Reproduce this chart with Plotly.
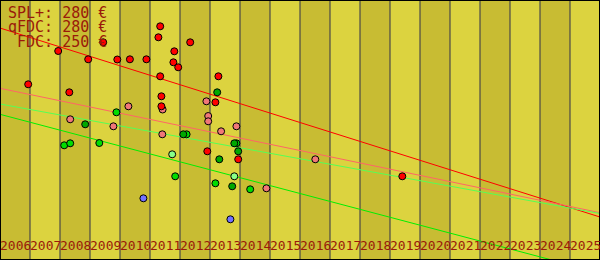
import plotly.graph_objects as go

# ---- data (x: decimal year, y: value) ----
years = list(range(2006, 2026))
year_labels = [str(y) for y in years]

red_x = [2006.94, 2007.94, 2008.31, 2008.94, 2009.44, 2009.91, 2010.33, 2010.88, 2011.34, 2011.28,
         2011.81, 2011.78, 2011.94, 2012.34, 2011.34, 2011.38, 2011.38, 2013.28, 2013.18, 2012.91,
         2013.94, 2019.41]
red_y = [175.7, 209, 167.7, 200.7, 217.7, 200.5, 200.7, 200.7, 233.7, 222.7,
         208.7, 197.7, 192.7, 217.7, 183.7, 163.7, 153.7, 183.7, 157.7, 108.7,
         100.7, 83.7]

pink_x = [2008.34, 2009.78, 2010.28, 2011.42, 2011.41, 2012.88, 2012.94, 2012.94, 2013.37, 2013.88,
          2014.88, 2016.51]
pink_y = [140.7, 133.7, 153.7, 150.5, 125.7, 158.7, 144, 138.7, 128.7, 133.7,
          71.7, 100.7]

dgreen_x = [2008.84, 2012.11, 2013.24, 2013.31, 2013.81, 2013.94, 2013.74]
dgreen_y = [135.7, 125.7, 167.7, 100.7, 116.7, 108.7, 73.7]

bgreen_x = [2008.14, 2008.34, 2009.31, 2009.88, 2012.22, 2013.88, 2011.84, 2013.18, 2014.34]
bgreen_y = [114.7, 116.7, 117, 147.7, 125.7, 116.7, 83.7, 76.7, 70.7]

lgreen_x = [2011.74, 2013.81]
lgreen_y = [105.7, 83.7]

blue_x = [2010.78, 2013.68]
blue_y = [61.7, 40.7]

# trend lines: value at start and end of the range
trend_x = [2006, 2026]
trend_red = [232, 43]
trend_pink = [171.7, 47.3]
trend_lgreen = [156, 46.5]
trend_green = [145.7, -12.7]

info_lines = ["SPL+: 280 €", "qFDC: 280 €", "\u00a0FDC: 250 €"]

# ---- styling ----
LIGHT = "#DCD33F"
DARK = "#C8BC33"
GRID = "#30304a"
TXT = "#9a1a0a"
MONO = "DejaVu Sans Mono"

fig = go.Figure()

for ty, col in [(trend_red, "#ff0000"), (trend_pink, "#ff6666"),
                (trend_lgreen, "#55ff55"), (trend_green, "#00ee00")]:
    fig.add_trace(go.Scatter(x=trend_x, y=ty, mode="lines",
                             line=dict(color=col, width=1), hoverinfo="skip"))

for xs, ys, col in [(blue_x, blue_y, "#7272ff"), (lgreen_x, lgreen_y, "#88ff88"),
                    (bgreen_x, bgreen_y, "#00dd00"), (dgreen_x, dgreen_y, "#00a800"),
                    (pink_x, pink_y, "#f07878"), (red_x, red_y, "#ff0000")]:
    fig.add_trace(go.Scatter(x=xs, y=ys, mode="markers",
                             marker=dict(color=col, size=7, line=dict(color="black", width=1)),
                             cliponaxis=False))

shapes = []
for y in years:
    shapes.append(dict(type="rect", xref="x", yref="paper", x0=y, x1=y + 1, y0=0, y1=1,
                       fillcolor=DARK if y % 2 == 0 else LIGHT, line=dict(width=0), layer="below"))
for y in years:
    shapes.append(dict(type="line", xref="x", yref="paper", x0=y, x1=y, y0=0, y1=1,
                       line=dict(color=GRID, width=1), layer="below"))
shapes.append(dict(type="rect", xref="paper", yref="paper", x0=0, x1=1, y0=0, y1=1,
                   line=dict(color="black", width=2), fillcolor="rgba(0,0,0,0)", layer="above"))

annotations = []
for y, lab in zip(years, year_labels):
    annotations.append(dict(x=y, y=15 / 260, xref="x", yref="paper", text=lab, showarrow=False,
                            xanchor="left", yanchor="middle", borderpad=0, xshift=-1,
                            font=dict(family=MONO, size=13, color=TXT)))
for i, t in enumerate(info_lines):
    annotations.append(dict(x=7 / 600, y=1 - (12.7 + 14.6 * i) / 260, xref="paper", yref="paper",
                            text=t, showarrow=False, xanchor="left", yanchor="middle", borderpad=0,
                            font=dict(family=MONO, size=15, color=TXT)))

fig.update_layout(
    width=600, height=260, margin=dict(l=0, r=0, t=0, b=0),
    paper_bgcolor=LIGHT, plot_bgcolor=LIGHT, showlegend=False,
    xaxis=dict(range=[2006, 2026], visible=False, fixedrange=True),
    yaxis=dict(range=[0, 260], visible=False, fixedrange=True),
    shapes=shapes, annotations=annotations,
)

fig.write_html("out.html")
